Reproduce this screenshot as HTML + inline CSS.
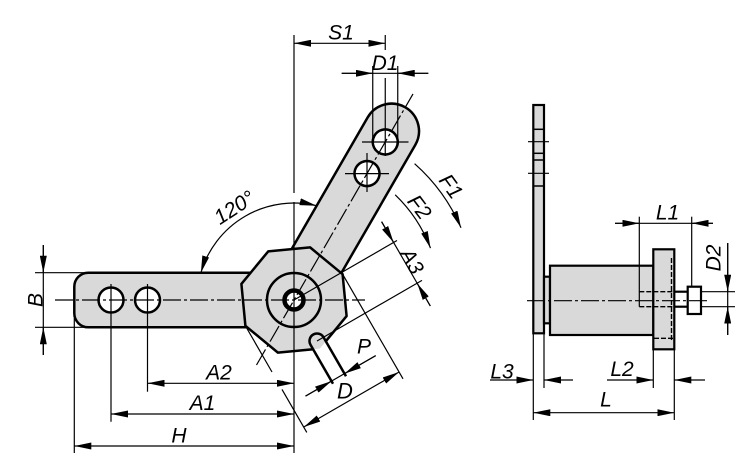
<!DOCTYPE html>
<html><head><meta charset="utf-8"><style>
html,body{margin:0;padding:0;background:#fff;}
svg{display:block;}
text{font-family:"Liberation Sans",Arial,sans-serif;font-style:italic;font-size:21px;fill:#000;text-anchor:middle;}
</style></head><body>
<svg width="750" height="470" viewBox="0 0 750 470" xmlns="http://www.w3.org/2000/svg">
<defs>
<marker id="ar" viewBox="0 0 17 7" refX="17" refY="3.5" markerWidth="17" markerHeight="7" markerUnits="userSpaceOnUse" orient="auto-start-reverse"><path d="M0,0 L17,3.5 L0,7 Z" fill="#000"/></marker>
<clipPath id="oct"><polygon points="268.2,251.4 310.1,247.4 342.6,274.2 346.6,316.1 319.8,348.6 277.9,352.6 245.4,325.8 241.4,283.9"/></clipPath>
</defs>
<rect width="750" height="470" fill="#fff"/>

<!-- ===== MAIN VIEW ===== -->
<path d="M294,272.7 L88.3,272.7 A14 14 0 0 0 74.3,286.7 L74.3,313.3 A14 14 0 0 0 88.3,327.3 L294,327.3 Z" fill="#d9d9d9" stroke="#000" stroke-width="2.5"/>
<circle cx="111" cy="300" r="12.5" fill="#fff" stroke="#000" stroke-width="2.5"/>
<circle cx="147.5" cy="300" r="12.5" fill="#fff" stroke="#000" stroke-width="2.5"/>

<g transform="translate(294,300) rotate(-60)">
<path d="M0,-27.5 L195,-27.5 A27.5 27.5 0 0 1 195,27.5 L0,27.5 Z" fill="#d9d9d9" stroke="#000" stroke-width="2.5"/>
<circle cx="146" cy="0" r="12.5" fill="#fff" stroke="#000" stroke-width="2.5"/>
<circle cx="182.5" cy="0" r="12.5" fill="#fff" stroke="#000" stroke-width="2.5"/>
</g>

<polygon points="268.2,251.4 310.1,247.4 342.6,274.2 346.6,316.1 319.8,348.6 277.9,352.6 245.4,325.8 241.4,283.9" fill="#d9d9d9" stroke="#000" stroke-width="2.5" stroke-linejoin="round"/>
<circle cx="294" cy="300" r="27" fill="none" stroke="#000" stroke-width="2.5"/>
<circle cx="294" cy="300" r="9.5" fill="#fff" stroke="#000" stroke-width="4.5"/>

<path d="M333,383.7 L310.5,344.75 A7.5 7.5 0 0 1 323.5,337.25 L346,376.2 Z" fill="#fff"/>
<path d="M333,383.7 L310.5,344.75 A7.5 7.5 0 0 1 323.5,337.25 L346,376.2 Z" fill="#d9d9d9" clip-path="url(#oct)"/>
<path d="M333,383.7 L310.5,344.75 A7.5 7.5 0 0 1 323.5,337.25 L346,376.2" fill="none" stroke="#000" stroke-width="2.5"/>

<g stroke="#000" stroke-width="1.2" fill="none" stroke-dasharray="18 3 3 3">
<line x1="55" y1="300" x2="365" y2="300"/>
<line x1="256.5" y1="365" x2="413" y2="93.9"/>
</g>
<g stroke="#000" stroke-width="1.2" fill="none">
<line x1="294" y1="35" x2="294" y2="193"/>
<line x1="294" y1="202" x2="294" y2="453"/>
<line x1="111" y1="284" x2="111" y2="421.7"/>
<line x1="147.5" y1="284" x2="147.5" y2="391.7"/>
<line x1="74.3" y1="318" x2="74.3" y2="453"/>
<line x1="362" y1="142" x2="408.5" y2="142"/>
<line x1="385.25" y1="78" x2="385.25" y2="156"/>
<line x1="345" y1="173.6" x2="389" y2="173.6"/>
<line x1="367" y1="153" x2="367" y2="192"/>
<line x1="385.25" y1="35" x2="385.25" y2="50"/>
<line x1="294" y1="43.3" x2="385.25" y2="43.3" marker-start="url(#ar)" marker-end="url(#ar)"/>
<line x1="372.75" y1="66" x2="372.75" y2="142"/>
<line x1="397.75" y1="66" x2="397.75" y2="142"/>
<line x1="341.7" y1="73.3" x2="428.3" y2="73.3"/>
<line x1="341.7" y1="73.3" x2="372.75" y2="73.3" marker-end="url(#ar)"/>
<line x1="428.3" y1="73.3" x2="397.75" y2="73.3" marker-end="url(#ar)"/>
<path d="M200.9,272.7 A97 97 0 0 1 316.6,205.7" marker-start="url(#ar)" marker-end="url(#ar)"/>
<path d="M414.6,163.7 A182 182 0 0 1 461,227.7" marker-end="url(#ar)"/>
<path d="M395.2,194.8 A146 146 0 0 1 430.5,248.1" marker-end="url(#ar)"/>
<line x1="294" y1="300" x2="397" y2="240.5"/>
<line x1="317" y1="341" x2="422" y2="280.4"/>
<line x1="381.6" y1="221.7" x2="430.3" y2="306"/>
<line x1="381.6" y1="221.7" x2="393.6" y2="242.5" marker-end="url(#ar)"/>
<line x1="430.3" y1="306" x2="417.3" y2="283.5" marker-end="url(#ar)"/>
<line x1="245.4" y1="325.8" x2="272" y2="372"/>
<line x1="282" y1="389.4" x2="306.8" y2="432.4"/>
<line x1="342.6" y1="274.2" x2="403" y2="378.8"/>
<line x1="303.8" y1="427" x2="399.1" y2="372" marker-start="url(#ar)" marker-end="url(#ar)"/>
<line x1="305.5" y1="396.1" x2="375.7" y2="355.6"/>
<line x1="305.5" y1="396.1" x2="331.5" y2="381.1" marker-end="url(#ar)"/>
<line x1="375.7" y1="355.6" x2="344.5" y2="373.6" marker-end="url(#ar)"/>
<line x1="147.5" y1="383.3" x2="294" y2="383.3" marker-start="url(#ar)" marker-end="url(#ar)"/>
<line x1="111" y1="414" x2="294" y2="414" marker-start="url(#ar)" marker-end="url(#ar)"/>
<line x1="74.3" y1="446" x2="294" y2="446" marker-start="url(#ar)" marker-end="url(#ar)"/>
<line x1="35" y1="272.7" x2="88" y2="272.7"/>
<line x1="35" y1="327.3" x2="88" y2="327.3"/>
<line x1="43.3" y1="245" x2="43.3" y2="355"/>
<line x1="43.3" y1="245" x2="43.3" y2="272.7" marker-end="url(#ar)"/>
<line x1="43.3" y1="355" x2="43.3" y2="327.3" marker-end="url(#ar)"/>
</g>

<text x="341" y="39.3">S1</text>
<text x="385" y="70.1">D1</text>
<text transform="translate(234,207) rotate(-33)" x="0" y="7.6">120°</text>
<text transform="translate(451.5,186) rotate(54)" x="0" y="7.6">F1</text>
<text transform="translate(420,206.7) rotate(53)" x="0" y="7.6">F2</text>
<text transform="translate(412.5,261) rotate(60)" x="0" y="7.6">A3</text>
<text x="364" y="353.3">P</text>
<text x="345" y="398.3" style="font-size:22px">D</text>
<text x="219" y="379.6">A2</text>
<text x="202.5" y="410.1">A1</text>
<text x="179" y="442.6">H</text>
<text transform="translate(35,300) rotate(-90)" x="0" y="7.6">B</text>

<!-- ===== SIDE VIEW ===== -->
<rect x="533.3" y="105" width="10.7" height="228.3" fill="#d9d9d9" stroke="#000" stroke-width="2.2"/>
<g stroke="#000" stroke-width="1.5">
<line x1="533.3" y1="129.3" x2="544" y2="129.3"/>
<line x1="533.3" y1="153.3" x2="544" y2="153.3"/>
<line x1="533.3" y1="160" x2="544" y2="160"/>
<line x1="533.3" y1="186" x2="544" y2="186"/>
</g>
<g stroke="#000" stroke-width="1.2">
<line x1="528" y1="141.7" x2="549" y2="141.7"/>
<line x1="528" y1="173.3" x2="549" y2="173.3"/>
</g>
<rect x="544" y="276.7" width="6" height="46.6" fill="#d9d9d9" stroke="#000" stroke-width="2.2"/>
<rect x="550" y="265.7" width="103.3" height="69.3" fill="#d9d9d9" stroke="#000" stroke-width="2.2"/>
<rect x="653.3" y="249.3" width="21" height="100" fill="#d9d9d9" stroke="#000" stroke-width="2.2"/>
<g stroke="#000" stroke-width="1.4" fill="none" stroke-dasharray="5 2">
<line x1="671.5" y1="258" x2="671.5" y2="342"/>
<line x1="654" y1="338.3" x2="674" y2="338.3"/>
<line x1="639.3" y1="291.7" x2="674.3" y2="291.7"/>
<line x1="639.3" y1="306.7" x2="674.3" y2="306.7"/>
</g>
<g stroke="#000" stroke-width="2.2" fill="none">
<line x1="674.3" y1="291.7" x2="687.7" y2="291.7"/>
<line x1="674.3" y1="306.7" x2="687.7" y2="306.7"/>
</g>
<rect x="687.7" y="286.7" width="13.3" height="27.3" fill="#fff" stroke="#000" stroke-width="2.2"/>
<line x1="527" y1="300.7" x2="707" y2="300.7" stroke="#000" stroke-width="1.2" stroke-dasharray="18 3 3 3"/>
<g stroke="#000" stroke-width="1.2" fill="none">
<line x1="639.3" y1="216.7" x2="639.3" y2="306.7"/>
<line x1="691.7" y1="216.7" x2="691.7" y2="287"/>
<line x1="615" y1="223.3" x2="713" y2="223.3"/>
<line x1="615" y1="223.3" x2="639.3" y2="223.3" marker-end="url(#ar)"/>
<line x1="713" y1="223.3" x2="691.7" y2="223.3" marker-end="url(#ar)"/>
<line x1="701" y1="291.7" x2="735" y2="291.7"/>
<line x1="701" y1="306.7" x2="735" y2="306.7"/>
<line x1="727.7" y1="243" x2="727.7" y2="335"/>
<line x1="727.7" y1="243" x2="727.7" y2="291.7" marker-end="url(#ar)"/>
<line x1="727.7" y1="335" x2="727.7" y2="306.7" marker-end="url(#ar)"/>
<line x1="533.3" y1="333" x2="533.3" y2="420"/>
<line x1="544" y1="333" x2="544" y2="388"/>
<line x1="653.3" y1="349" x2="653.3" y2="388"/>
<line x1="674.3" y1="349" x2="674.3" y2="420"/>
<line x1="490" y1="380" x2="533.3" y2="380" marker-end="url(#ar)"/>
<line x1="573" y1="380" x2="544" y2="380" marker-end="url(#ar)"/>
<line x1="607" y1="380" x2="653.3" y2="380" marker-end="url(#ar)"/>
<line x1="705" y1="380" x2="674.3" y2="380" marker-end="url(#ar)"/>
<line x1="533.3" y1="412.7" x2="674.3" y2="412.7" marker-start="url(#ar)" marker-end="url(#ar)"/>
</g>
<text x="667.5" y="219.3">L1</text>
<text transform="translate(713,258) rotate(-90)" x="0" y="7.6">D2</text>
<text x="502" y="378.6">L3</text>
<text x="622" y="376.1">L2</text>
<text x="606" y="406.6">L</text>
</svg>
</body></html>
